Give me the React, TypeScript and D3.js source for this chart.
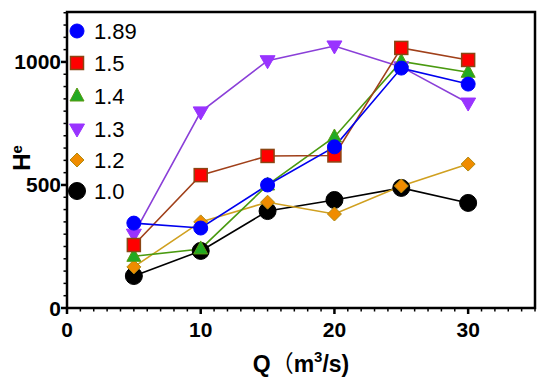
import React from "react";
import * as d3 from "d3";

const xValues = [5, 10, 15, 20, 25, 30];
const seriesNames = ["1.89", "1.5", "1.4", "1.3", "1.2", "1.0"];
const s189 = [345, 325, 500, 655, 975, 910];
const s15 = [256, 540, 618, 620, 1057, 1008];
const s14 = [210, 240, 500, 695, 1002, 958];
const s13 = [300, 797, 1005, 1065, 980, 833];
const s12 = [167, 350, 430, 382, 496, 585];
const s10 = [130, 232, 394, 439, 488, 427];
const xTicks = [0, 10, 20, 30];
const yTicks = [0, 500, 1000];

const seriesValues = [s189, s15, s14, s13, s12, s10];
const lineColors = ["#0000ee", "#a0401a", "#4a9a10", "#8a3fd8", "#d0a020", "#000000"];
const fillColors = ["#0000ff", "#ff0000", "#22aa22", "#9933ff", "#f08c00", "#000000"];
const strokeColors = ["#0000ff", "#8b4513", "#5a9a10", "#9933ff", "#b08a10", "#000000"];
const shapes = ["circle", "square", "triangle", "tridown", "diamond", "bigcircle"];

const W = 550, H = 390;
const left = 67, right = 535, top = 12, bottom = 308;

const x = d3.scaleLinear().domain([0, 35]).range([left, right]);
const y = d3.scaleLinear().domain([0, 1203]).range([bottom, top]);

function Marker({ shape, cx, cy, fill, stroke }: any) {
  if (shape === "circle") return <circle cx={cx} cy={cy} r={7} fill={fill} stroke={stroke} strokeWidth={1} />;
  if (shape === "bigcircle") return <circle cx={cx} cy={cy} r={8.5} fill={fill} stroke={stroke} strokeWidth={1} />;
  if (shape === "square") return <rect x={cx - 6.5} y={cy - 6.5} width={13} height={13} fill={fill} stroke={stroke} strokeWidth={1.5} />;
  if (shape === "triangle") {
    const p = `${cx},${cy - 8} ${cx - 7},${cy + 5} ${cx + 7},${cy + 5}`;
    return <polygon points={p} fill={fill} stroke={stroke} strokeWidth={1} />;
  }
  if (shape === "tridown") {
    const p = `${cx},${cy + 8} ${cx - 7.5},${cy - 5} ${cx + 7.5},${cy - 5}`;
    return <polygon points={p} fill={fill} stroke={stroke} strokeWidth={1} />;
  }
  const p = `${cx},${cy - 7} ${cx + 7},${cy} ${cx},${cy + 7} ${cx - 7},${cy}`;
  return <polygon points={p} fill={fill} stroke={stroke} strokeWidth={1} />;
}

export default function App() {
  const line = d3.line<number>().x((_, i) => x(xValues[i])).y((v) => y(v));
  const xMinor = d3.range(0, 36, 1);
  const yMinor = d3.range(0, 1201, 50);
  const legendY = [31, 63, 96, 129, 160, 191];
  const order = [5, 4, 3, 2, 1, 0];
  return (
    <svg width={W} height={H} style={{ position: "absolute", left: 0, top: 0, background: "#fff" }}
      fontFamily="Arial, 'Liberation Sans', sans-serif">
      {order.map((si) => (
        <path key={"l" + si} d={line(seriesValues[si]) || ""} fill="none" stroke={lineColors[si]} strokeWidth={1.6} />
      ))}
      {order.map((si) =>
        seriesValues[si].map((v, i) => (
          <Marker key={si + "-" + i} shape={shapes[si]} cx={x(xValues[i])} cy={y(v)}
            fill={fillColors[si]} stroke={strokeColors[si]} />
        ))
      )}
      {/* frame */}
      <rect x={left} y={top} width={right - left} height={bottom - top} fill="none" stroke="#000" strokeWidth={2.5} />
      {xMinor.map((t) => (
        <line key={"xm" + t} x1={x(t)} x2={x(t)} y1={bottom} y2={bottom + (t % 10 === 0 ? 6 : 3.5)} stroke="#000" strokeWidth={t % 10 === 0 ? 2.5 : 1.5} />
      ))}
      {yMinor.map((t) => (
        <line key={"ym" + t} x1={left} x2={left - (t % 500 === 0 ? 6 : 3.5)} y1={y(t)} y2={y(t)} stroke="#000" strokeWidth={t % 500 === 0 ? 2.5 : 1.5} />
      ))}
      {xTicks.map((t) => (
        <text key={"xt" + t} x={x(t)} y={337} textAnchor="middle" fontWeight="bold" fontSize={21}>{t}</text>
      ))}
      {yTicks.map((t) => (
        <text key={"yt" + t} x={61} y={y(t) + 7.5} textAnchor="end" fontWeight="bold" fontSize={21}>{t}</text>
      ))}
      <text x={301} y={372} textAnchor="middle" fontWeight="bold" fontSize={23}>
        Q<tspan fontFamily="'Noto Sans CJK SC'" fontWeight="normal">（</tspan>m<tspan dy={-10} fontSize={15}>3</tspan><tspan dy={10}>/s)</tspan>
      </text>
      <g transform="translate(30,158) rotate(-90)">
        <text x={0} y={0} textAnchor="middle" fontWeight="bold" fontSize={24}>
          H<tspan dy={-8} fontSize={15}>e</tspan>
        </text>
      </g>
      {seriesNames.map((n, si) => (
        <g key={"lg" + si}>
          <Marker shape={shapes[si]} cx={77} cy={legendY[si]} fill={fillColors[si]} stroke={strokeColors[si]} />
          <text x={94} y={legendY[si] + 8} fontSize={22}>{n}</text>
        </g>
      ))}
    </svg>
  );
}
